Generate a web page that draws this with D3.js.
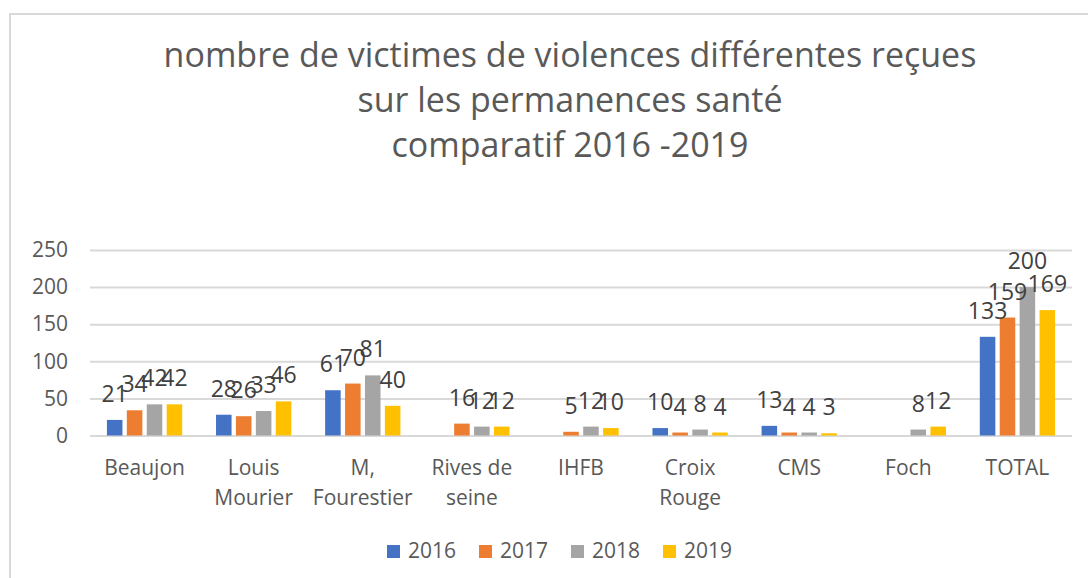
<!DOCTYPE html>
<html><head><meta charset="utf-8">
<script src="https://cdn.jsdelivr.net/npm/d3@7"></script>
<style>
html,body{margin:0;padding:0;background:#fff;}
svg{display:block;font-family:"Open Sans",sans-serif;}
</style></head><body>
<svg id="c" width="1088" height="578"></svg>
<script>
const categories = [["Beaujon"],["Louis","Mourier"],["M,","Fourestier"],["Rives de","seine"],["IHFB"],["Croix","Rouge"],["CMS"],["Foch"],["TOTAL"]];
const years = ["2016","2017","2018","2019"];
const v2016 = [21,28,61,null,null,10,13,null,133];
const v2017 = [34,26,70,16,5,4,4,null,159];
const v2018 = [42,33,81,12,12,8,4,8,200];
const v2019 = [42,46,40,12,10,4,3,12,169];
const yTicks = [0,50,100,150,200,250];
const titleLines = ["nombre de victimes de violences différentes reçues","sur les permanences santé","comparatif 2016 -2019"];
const colors = ["#4472C4","#ED7D31","#A5A5A5","#FFC000"];
const series = [v2016,v2017,v2018,v2019];

const svg = d3.select("#c");
// frame
svg.append("path").attr("d","M10,1000 L10,14 L1100,14").attr("fill","none").attr("stroke","#d9d9d9").attr("stroke-width",2);

// title
svg.append("g").selectAll("text").data(titleLines).join("text")
  .attr("x",570).attr("y",(d,i)=>67+i*45).attr("text-anchor","middle")
  .attr("font-size",34).attr("fill","#595959").text(d=>d);

const x0 = d3.scaleBand().domain(d3.range(categories.length)).range([90,1072]).paddingInner(0.31).paddingOuter(0.155);
const x1 = d3.scaleBand().domain(d3.range(years.length)).range([0,x0.bandwidth()]).paddingInner(0.22);
const y = d3.scaleLinear().domain([0,250]).range([435.5,250]);

// grid
const yAxis = d3.axisLeft(y).tickValues(yTicks).tickSize(-(1072-90)).tickPadding(22);
const gy = svg.append("g").attr("transform","translate(90,0)").call(yAxis);
gy.select(".domain").remove();
gy.selectAll(".tick line").attr("stroke","#d9d9d9").attr("stroke-width",2);
gy.selectAll(".tick text").attr("font-size",21).attr("fill","#595959").attr("font-family","Open Sans");

// bars
const g = svg.append("g");
series.forEach((vals,si)=>{
  vals.forEach((v,ci)=>{
    if(v==null) return;
    g.append("rect").attr("x",x0(ci)+x1(si)).attr("width",x1.bandwidth())
      .attr("y",y(v)).attr("height",y(0)-y(v)).attr("fill",colors[si]);
  });
});
series.forEach((vals,si)=>{
  vals.forEach((v,ci)=>{
    if(v==null) return;
    g.append("text").attr("x",x0(ci)+x1(si)+x1.bandwidth()/2).attr("y",y(v)-18)
      .attr("text-anchor","middle").attr("font-size",23).attr("fill","#404040").text(v);
  });
});

// x axis labels
const xa = svg.append("g");
categories.forEach((lines,ci)=>{
  const t = xa.append("text").attr("x",x0(ci)+x0.bandwidth()/2).attr("y",475).attr("text-anchor","middle")
    .attr("font-size",21).attr("fill","#595959");
  lines.forEach((l,li)=>t.append("tspan").attr("x",x0(ci)+x0.bandwidth()/2).attr("dy",li?30:0).text(l));
});

// legend
const leg = svg.append("g");
years.forEach((yr,i)=>{
  const lx = 387 + i*92;
  leg.append("rect").attr("x",lx).attr("y",545).attr("width",13).attr("height",13).attr("fill",colors[i]);
  leg.append("text").attr("x",lx+21).attr("y",558).attr("font-size",21).attr("fill","#595959").text(yr);
});
</script>
</body></html>
